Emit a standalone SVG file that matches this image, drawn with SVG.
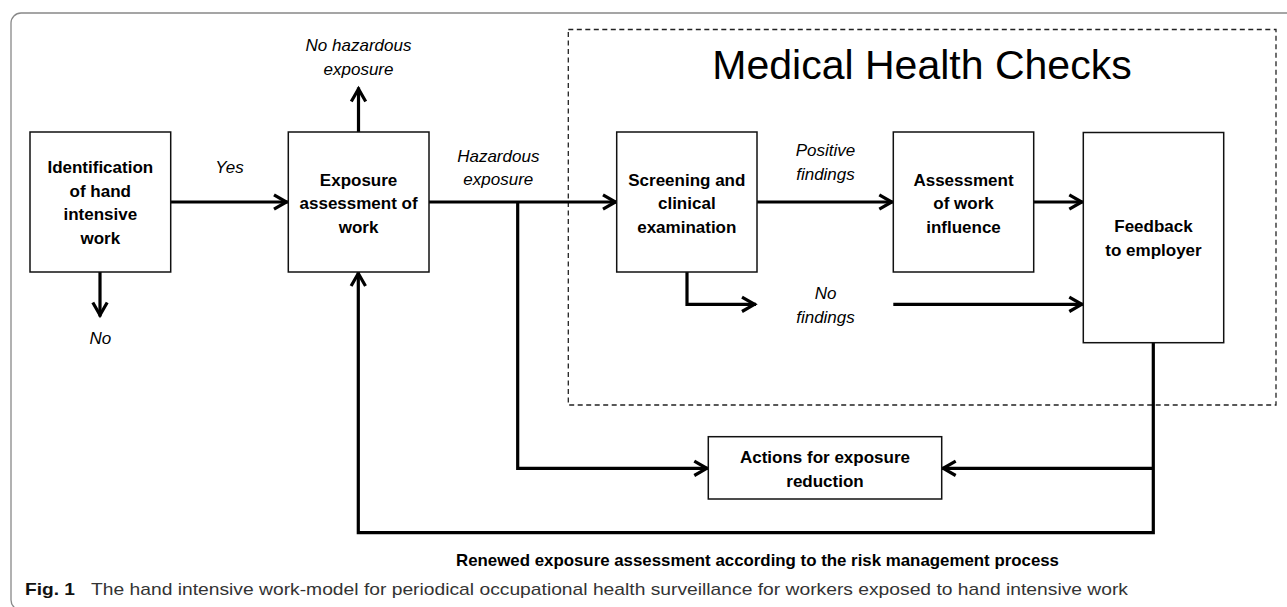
<svg xmlns="http://www.w3.org/2000/svg" width="1287" height="607" viewBox="0 0 1287 607">
<style>
.box{fill:#fff;stroke:#111;stroke-width:1.5}
.bt{font-family:"Liberation Sans",Arial,sans-serif;font-weight:bold;font-size:17px;text-anchor:middle;fill:#000}
.it{font-family:"Liberation Sans",Arial,sans-serif;font-style:italic;font-size:17px;text-anchor:middle;fill:#000}
.con{fill:none;stroke:#000;stroke-width:3.2;stroke-linejoin:miter}
.arr{marker-end:url(#ah)}
</style>
<defs>
<marker id="ah" markerUnits="userSpaceOnUse" markerWidth="24" markerHeight="24" viewBox="0 0 24 24" refX="17" refY="10" orient="auto" overflow="visible">
<path d="M3,2.8 L15.5,10 L3,17.2" fill="none" stroke="#000" stroke-width="3.2" stroke-linejoin="miter"/>
</marker>
</defs>
<rect width="1287" height="607" fill="#fff"/>
<rect id="frame" x="11" y="13" width="1300" height="597" rx="10" ry="10" fill="none" stroke="#888" stroke-width="1.3"/>
<g id="medical-health-checks">
<rect x="568.3" y="29.5" width="707.7" height="375.5" fill="none" stroke="#222" stroke-width="1.3" stroke-dasharray="5 3.5"/>
<text x="922" y="79" font-family="Liberation Sans,Arial,sans-serif" font-size="41" text-anchor="middle" fill="#000">Medical Health Checks</text>
</g>
<g id="connectors">
<path class="con arr" d="M170 202 H288"/>
<path class="con arr" d="M100 272 V316.5"/>
<path class="con arr" d="M358.5 132 V87.5"/>
<path class="con arr" d="M429 202 H617"/>
<path class="con arr" d="M517.7 202 V468.3 H708.3"/>
<path class="con arr" d="M687 272 V304.3 H756"/>
<path class="con arr" d="M757 202 H893.3"/>
<path class="con arr" d="M1033.7 202 H1083.3"/>
<path class="con arr" d="M893.3 304.3 H1083.3"/>
<path class="con arr" d="M1153.3 342.7 V532.7 H358.3 V272"/>
<path class="con arr" d="M1153.3 468.3 H941.7"/>
</g>
<g id="identification">
<rect class="box" x="30" y="132" width="140.7" height="140"/>
<text class="bt" x="100.3" y="173">Identification</text>
<text class="bt" x="100.3" y="196.5">of hand</text>
<text class="bt" x="100.3" y="220">intensive</text>
<text class="bt" x="100.3" y="243.5">work</text>
</g>
<g id="exposure-assessment">
<rect class="box" x="288.3" y="132" width="140.7" height="140"/>
<text class="bt" x="358.6" y="185.5">Exposure</text>
<text class="bt" x="358.6" y="209">assessment of</text>
<text class="bt" x="358.6" y="232.5">work</text>
</g>
<g id="screening">
<rect class="box" x="616.7" y="132" width="140.3" height="140"/>
<text class="bt" x="686.8" y="185.5">Screening and</text>
<text class="bt" x="686.8" y="209">clinical</text>
<text class="bt" x="686.8" y="232.5">examination</text>
</g>
<g id="assessment-influence">
<rect class="box" x="893.3" y="132" width="140.4" height="140"/>
<text class="bt" x="963.5" y="185.5">Assessment</text>
<text class="bt" x="963.5" y="209">of work</text>
<text class="bt" x="963.5" y="232.5">influence</text>
</g>
<g id="feedback">
<rect class="box" x="1083.3" y="132.5" width="140.4" height="210.2"/>
<text class="bt" x="1153.5" y="232.3">Feedback</text>
<text class="bt" x="1153.5" y="255.8">to employer</text>
</g>
<g id="actions">
<rect class="box" x="708.3" y="436.7" width="233.4" height="62.3"/>
<text class="bt" x="825" y="463.3">Actions for exposure</text>
<text class="bt" x="825" y="487">reduction</text>
</g>
<g id="labels">
<text class="it" x="358.5" y="51">No hazardous</text>
<text class="it" x="358.5" y="74.5">exposure</text>
<text class="it" x="229.5" y="173">Yes</text>
<text class="it" x="100.3" y="344.3">No</text>
<text class="it" x="498.3" y="161.5">Hazardous</text>
<text class="it" x="498.3" y="185">exposure</text>
<text class="it" x="825.5" y="156">Positive</text>
<text class="it" x="825.5" y="179.7">findings</text>
<text class="it" x="825.5" y="299.3">No</text>
<text class="it" x="825.5" y="322.7">findings</text>
<text class="bt" x="757.5" y="565.7" font-size="16.5" textLength="603" lengthAdjust="spacingAndGlyphs">Renewed exposure assessment according to the risk management process</text>
</g>
<g id="caption">
<text x="25" y="595" font-family="Liberation Sans,Arial,sans-serif" font-weight="bold" font-size="17" fill="#111" textLength="50" lengthAdjust="spacingAndGlyphs">Fig. 1</text>
<text x="91" y="595" font-family="Liberation Sans,Arial,sans-serif" font-size="17" fill="#333" textLength="1037" lengthAdjust="spacingAndGlyphs">The hand intensive work-model for periodical occupational health surveillance for workers exposed to hand intensive work</text>
</g>
</svg>
